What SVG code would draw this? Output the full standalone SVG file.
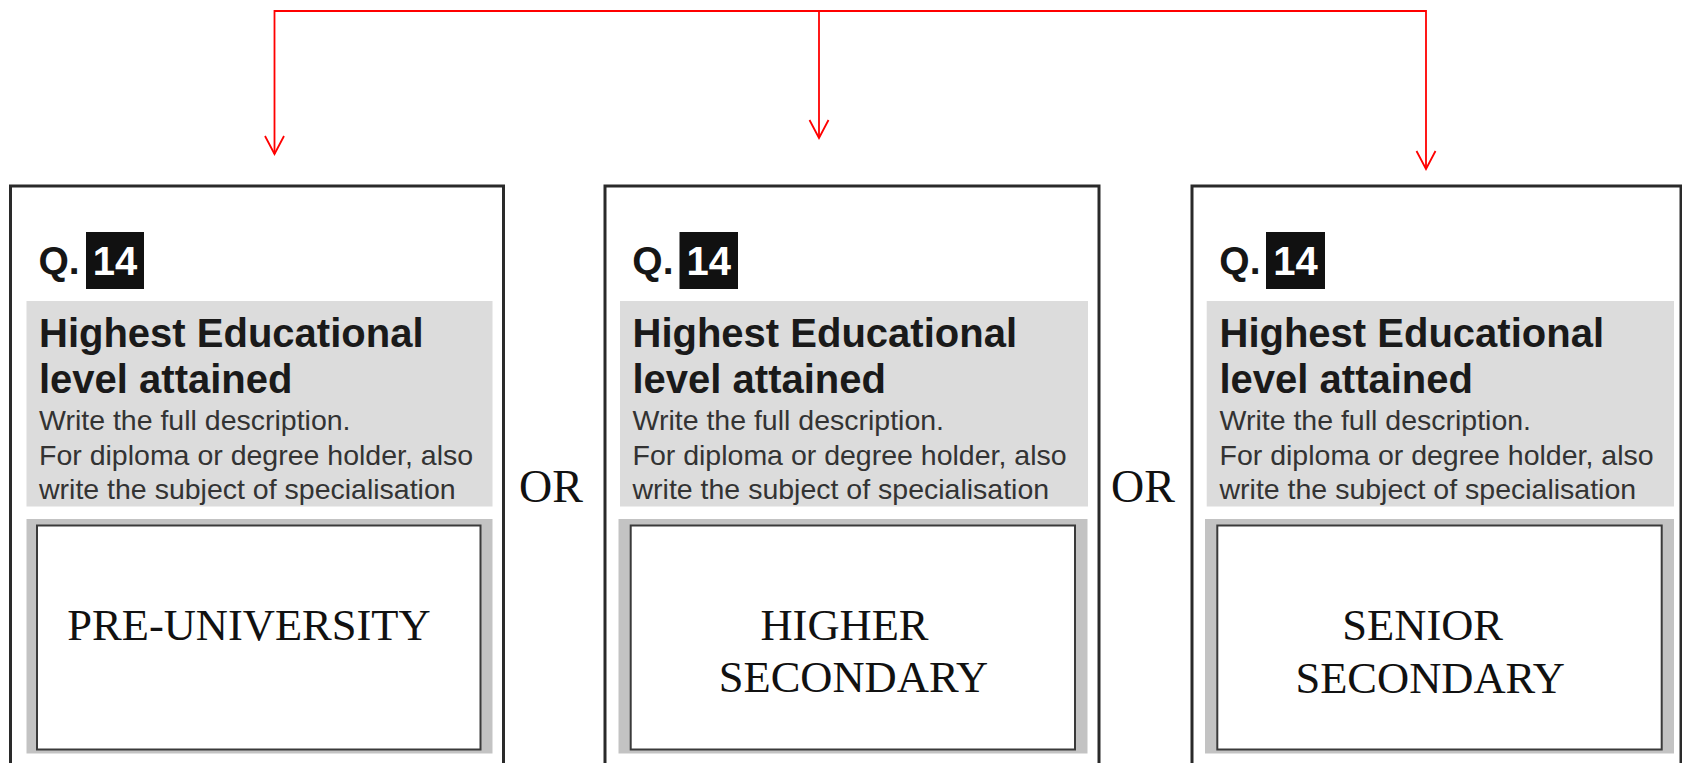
<svg xmlns="http://www.w3.org/2000/svg" width="1682" height="763" viewBox="0 0 1682 763">
<style>
.box{fill:#fff;stroke:#2a2a2a;stroke-width:3}
.qnum{fill:#111}
.q{font-family:"Liberation Sans",Arial,sans-serif;font-weight:bold;font-size:39px;fill:#161616}
.n{font-family:"Liberation Sans",Arial,sans-serif;font-weight:bold;font-size:40px;fill:#fff;text-anchor:middle}
.hdr{fill:#dcdcdc}
.h1{font-family:"Liberation Sans",Arial,sans-serif;font-weight:bold;font-size:40px;fill:#1a1a1a}
.h2{font-family:"Liberation Sans",Arial,sans-serif;font-size:28.5px;fill:#333}
.frame{fill:#c3c3c3}
.ans{fill:#fff;stroke:#3a3a3a;stroke-width:2}
.a{font-family:"Liberation Serif","Times New Roman",serif;font-size:44.5px;fill:#111;text-anchor:middle}
.or{font-family:"Liberation Serif","Times New Roman",serif;font-size:46px;fill:#111}
.conn{fill:none;stroke:#ff0000;stroke-width:1.8;marker-end:url(#arr)}
</style>
<defs>
<marker id="arr" markerUnits="userSpaceOnUse" markerWidth="24" markerHeight="24" viewBox="-20 -12 24 24" refX="0" refY="0" orient="auto" overflow="visible">
<path d="M-18,-9.5 L0,0 L-18,9.5" fill="none" stroke="#ff0000" stroke-width="1.8"/>
</marker>
</defs>

<g id="connectors">
<path class="conn" d="M819,11 H274.5 V154"/>
<path class="conn" d="M819,11 V138"/>
<path class="conn" d="M819,11 H1426 V169"/>
</g>

<g id="node-pre-university">
<rect class="box" x="10.5" y="186" width="493" height="620"/>
<text class="q" x="38.5" y="274">Q.</text>
<rect class="qnum" x="86" y="232" width="58" height="57"/>
<text class="n" x="115" y="275">14</text>
<rect class="hdr" x="26.5" y="301" width="466" height="205.5"/>
<text class="h1" x="39" y="346.5">Highest Educational</text>
<text class="h1" x="39" y="393">level attained</text>
<text class="h2" x="39" y="430">Write the full description.</text>
<text class="h2" x="39" y="465">For diploma or degree holder, also</text>
<text class="h2" x="39" y="498.5">write the subject of specialisation</text>
<rect class="frame" x="26.5" y="519" width="466" height="234.5"/>
<rect class="ans" x="37" y="525.5" width="443.5" height="224"/>
<text class="a" x="249" y="639.5">PRE-UNIVERSITY</text>
</g>

<g id="or-1"><text class="or" x="519" y="502">OR</text></g>

<g id="node-higher-secondary">
<rect class="box" x="605" y="186" width="494" height="620"/>
<text class="q" x="632.3" y="274">Q.</text>
<rect class="qnum" x="679.5" y="232" width="58.5" height="57"/>
<text class="n" x="708.7" y="275">14</text>
<rect class="hdr" x="620" y="301" width="468" height="205.5"/>
<text class="h1" x="632.5" y="346.5">Highest Educational</text>
<text class="h1" x="632.5" y="393">level attained</text>
<text class="h2" x="632.5" y="430">Write the full description.</text>
<text class="h2" x="632.5" y="465">For diploma or degree holder, also</text>
<text class="h2" x="632.5" y="498.5">write the subject of specialisation</text>
<rect class="frame" x="618.5" y="519" width="469" height="234.5"/>
<rect class="ans" x="630.7" y="525.5" width="444.3" height="224"/>
<text class="a" x="844.5" y="639.5">HIGHER</text>
<text class="a" x="853.5" y="691.7">SECONDARY</text>
</g>

<g id="or-2"><text class="or" x="1111" y="502">OR</text></g>

<g id="node-senior-secondary">
<rect class="box" x="1192" y="186" width="489" height="620"/>
<text class="q" x="1219.3" y="274">Q.</text>
<rect class="qnum" x="1266" y="232" width="59" height="57"/>
<text class="n" x="1295.5" y="275">14</text>
<rect class="hdr" x="1206.7" y="301" width="467.3" height="205.5"/>
<text class="h1" x="1219.5" y="346.5">Highest Educational</text>
<text class="h1" x="1219.5" y="393">level attained</text>
<text class="h2" x="1219.5" y="430">Write the full description.</text>
<text class="h2" x="1219.5" y="465">For diploma or degree holder, also</text>
<text class="h2" x="1219.5" y="498.5">write the subject of specialisation</text>
<rect class="frame" x="1205" y="519" width="469" height="234.5"/>
<rect class="ans" x="1217.3" y="525.5" width="444.4" height="224"/>
<text class="a" x="1422.7" y="639.5">SENIOR</text>
<text class="a" x="1430.2" y="692.5">SECONDARY</text>
</g>
</svg>
